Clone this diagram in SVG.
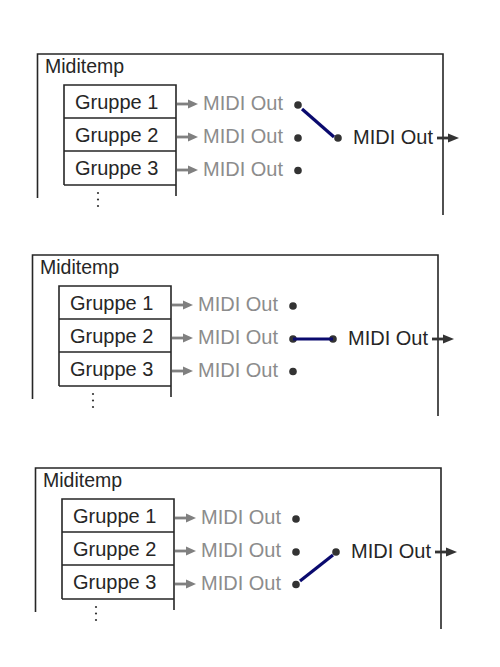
<svg xmlns="http://www.w3.org/2000/svg" width="500" height="667" viewBox="0 0 500 667">
  <defs>
    <style>
      .frame { fill: none; stroke: #262626; stroke-width: 1.6; }
      .lbl { font-family: "Liberation Sans", Arial, sans-serif; font-size: 19.5px; fill: #262626; }
      .grp { font-family: "Liberation Sans", Arial, sans-serif; font-size: 20px; fill: #262626; }
      .gout { font-family: "Liberation Sans", Arial, sans-serif; font-size: 20px; fill: #8c8c8c; }
      .bout { font-family: "Liberation Sans", Arial, sans-serif; font-size: 20px; fill: #262626; }
      .garrow { stroke: #808080; stroke-width: 2.8; fill: none; marker-end: url(#gh); }
      .barrow { stroke: #333; stroke-width: 2.8; fill: none; marker-end: url(#bh); }
      .dot { fill: #333; }
      .sw { stroke: #0a0a6e; stroke-width: 3.2; stroke-linecap: butt; fill: none; }
      .ell { fill: #333; }
    </style>
    <marker id="gh" markerWidth="11" markerHeight="12" refX="0" refY="6" orient="auto" markerUnits="userSpaceOnUse">
      <path d="M0,1.5 L10,6 L0,10.5 Z" fill="#808080"/>
    </marker>
    <marker id="bh" markerWidth="12" markerHeight="12" refX="0" refY="6" orient="auto" markerUnits="userSpaceOnUse">
      <path d="M0,1.5 L11,6 L0,10.5 Z" fill="#333"/>
    </marker>
    <g id="panel">
      <path class="frame" d="M37.5,198 V54 H443 V215"/>
      <text class="lbl" x="45" y="73">Miditemp</text>
      <g id="groups">
        <path class="frame" d="M64,185 V85 H176 V196 M64,118 H176 M64,151 H176 M64,185 H176"/>
        <text class="grp" x="75" y="109">Gruppe 1</text>
        <text class="grp" x="75" y="142">Gruppe 2</text>
        <text class="grp" x="75" y="175">Gruppe 3</text>
        <circle class="ell" cx="98" cy="193" r="1.1"/>
        <circle class="ell" cx="98" cy="199.5" r="1.1"/>
        <circle class="ell" cx="98" cy="206" r="1.1"/>
      </g>
      <g id="outs">
        <text class="gout" x="203" y="109.5">MIDI Out</text>
        <text class="gout" x="203" y="142.5">MIDI Out</text>
        <text class="gout" x="203" y="175.5">MIDI Out</text>
        <circle class="dot" cx="298" cy="105" r="3.8"/>
        <circle class="dot" cx="298" cy="138" r="3.8"/>
        <circle class="dot" cx="298" cy="170.5" r="3.8"/>
        <circle class="dot" cx="338" cy="138" r="3.8"/>
        <text class="bout" x="353" y="143.5">MIDI Out</text>
      </g>
      <g id="arrows">
        <line class="garrow" x1="177" y1="104" x2="188" y2="104"/>
        <line class="garrow" x1="177" y1="137" x2="188" y2="137"/>
        <line class="garrow" x1="177" y1="170" x2="188" y2="170"/>
        <line class="barrow" x1="437" y1="138" x2="448" y2="138"/>
      </g>
    </g>
  </defs>

  <g id="panel1">
    <use href="#panel"/>
    <g id="connectors1">
      <line class="sw" x1="302" y1="109" x2="334" y2="137"/>
    </g>
  </g>

  <g id="panel2" transform="translate(-5,201)">
    <use href="#panel"/>
    <g id="connectors2">
      <line class="sw" x1="298" y1="138" x2="338" y2="138"/>
    </g>
  </g>

  <g id="panel3" transform="translate(-2,414)">
    <use href="#panel"/>
    <g id="connectors3">
      <line class="sw" x1="302" y1="167" x2="335" y2="141"/>
    </g>
  </g>
</svg>
